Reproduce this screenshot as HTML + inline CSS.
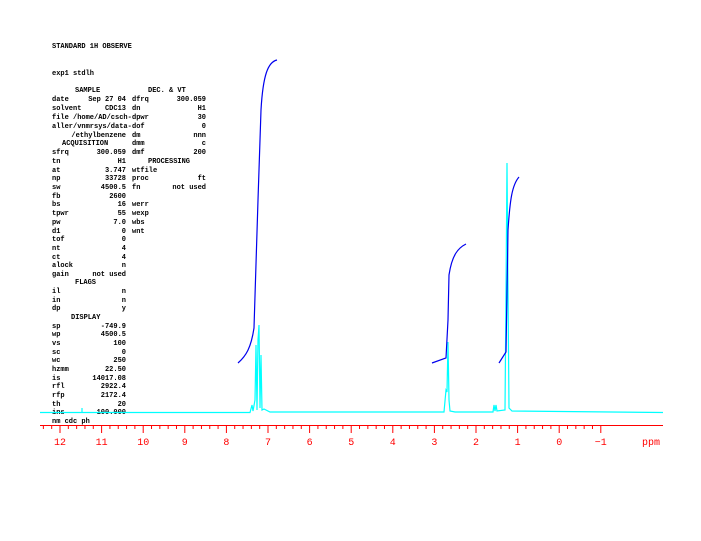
<!DOCTYPE html>
<html><head><style>
body{margin:0;background:#fff;width:701px;height:541px;overflow:hidden}
svg{display:block}
.t{font-family:"Liberation Mono",monospace;font-size:7px;fill:#000;font-weight:bold;white-space:pre}
.a{font-family:"Liberation Mono",monospace;font-size:10px;fill:#f00}
</style></head><body>
<svg width="701" height="541" xmlns="http://www.w3.org/2000/svg">
<g class="t">
<text x="52" y="48">STANDARD 1H OBSERVE</text>
<text x="52" y="75">exp1  stdlh</text>
<text x="75" y="92">SAMPLE</text><text x="148" y="92">DEC. &amp; VT</text>
<g>
<text x="52" y="101">date</text><text x="126" y="101" text-anchor="end">Sep 27 04</text>
<text x="52" y="110">solvent</text><text x="126" y="110" text-anchor="end">CDC13</text>
<text x="52" y="119">file /home/AD/csch-</text>
<text x="52" y="128">aller/vnmrsys/data-</text>
<text x="126" y="137" text-anchor="end">/ethylbenzene</text>
<text x="62" y="145">ACQUISITION</text>
<text x="52" y="154">sfrq</text><text x="126" y="154" text-anchor="end">300.059</text>
<text x="52" y="163">tn</text><text x="126" y="163" text-anchor="end">H1</text>
<text x="52" y="172">at</text><text x="126" y="172" text-anchor="end">3.747</text>
<text x="52" y="180">np</text><text x="126" y="180" text-anchor="end">33728</text>
<text x="52" y="189">sw</text><text x="126" y="189" text-anchor="end">4500.5</text>
<text x="52" y="198">fb</text><text x="126" y="198" text-anchor="end">2600</text>
<text x="52" y="206">bs</text><text x="126" y="206" text-anchor="end">16</text>
<text x="52" y="215">tpwr</text><text x="126" y="215" text-anchor="end">55</text>
<text x="52" y="224">pw</text><text x="126" y="224" text-anchor="end">7.0</text>
<text x="52" y="233">d1</text><text x="126" y="233" text-anchor="end">0</text>
<text x="52" y="241">tof</text><text x="126" y="241" text-anchor="end">0</text>
<text x="52" y="250">nt</text><text x="126" y="250" text-anchor="end">4</text>
<text x="52" y="259">ct</text><text x="126" y="259" text-anchor="end">4</text>
<text x="52" y="267">alock</text><text x="126" y="267" text-anchor="end">n</text>
<text x="52" y="276">gain</text><text x="126" y="276" text-anchor="end">not used</text>
<text x="75" y="284">FLAGS</text>
<text x="52" y="293">il</text><text x="126" y="293" text-anchor="end">n</text>
<text x="52" y="302">in</text><text x="126" y="302" text-anchor="end">n</text>
<text x="52" y="310">dp</text><text x="126" y="310" text-anchor="end">y</text>
<text x="71" y="319">DISPLAY</text>
<text x="52" y="328">sp</text><text x="126" y="328" text-anchor="end">-749.9</text>
<text x="52" y="336">wp</text><text x="126" y="336" text-anchor="end">4500.5</text>
<text x="52" y="345">vs</text><text x="126" y="345" text-anchor="end">100</text>
<text x="52" y="354">sc</text><text x="126" y="354" text-anchor="end">0</text>
<text x="52" y="362">wc</text><text x="126" y="362" text-anchor="end">250</text>
<text x="52" y="371">hzmm</text><text x="126" y="371" text-anchor="end">22.50</text>
<text x="52" y="380">is</text><text x="126" y="380" text-anchor="end">14017.08</text>
<text x="52" y="388">rfl</text><text x="126" y="388" text-anchor="end">2922.4</text>
<text x="52" y="397">rfp</text><text x="126" y="397" text-anchor="end">2172.4</text>
<text x="52" y="406">th</text><text x="126" y="406" text-anchor="end">20</text>
<text x="52" y="414">ins</text><text x="126" y="414" text-anchor="end">100.000</text>
<text x="52" y="423">nm  cdc  ph</text>
</g>
<g>
<text x="132" y="101">dfrq</text><text x="206" y="101" text-anchor="end">300.059</text>
<text x="132" y="110">dn</text><text x="206" y="110" text-anchor="end">H1</text>
<text x="132" y="119">dpwr</text><text x="206" y="119" text-anchor="end">30</text>
<text x="132" y="128">dof</text><text x="206" y="128" text-anchor="end">0</text>
<text x="132" y="137">dm</text><text x="206" y="137" text-anchor="end">nnn</text>
<text x="132" y="145">dmm</text><text x="206" y="145" text-anchor="end">c</text>
<text x="132" y="154">dmf</text><text x="206" y="154" text-anchor="end">200</text>
<text x="148" y="163">PROCESSING</text>
<text x="132" y="172">wtfile</text>
<text x="132" y="180">proc</text><text x="206" y="180" text-anchor="end">ft</text>
<text x="132" y="189">fn</text><text x="206" y="189" text-anchor="end">not used</text>
<text x="132" y="206">werr</text>
<text x="132" y="215">wexp</text>
<text x="132" y="224">wbs</text>
<text x="132" y="233">wnt</text>
</g>
</g>
<g fill="none" stroke="#00ffff" stroke-width="1.2">
<path d="M40 412.5 L250 412.5 L252 405 L253 411 L255 400 L256 345 L257 410 L258 340 L259 325 L260 408 L261 355 L262 410 L264 409 L270 412 L444 412 L446 390 L447 392 L448 342 L449 400 L450 411 L455 412 L493 412 L494 405 L495 411 L496 405 L497 411 L505 410 L506 292 L507 163 L508 290 L509 408 L512 411 L663 412.5"/>
<path d="M82 412 L82 408"/>
</g>
<g fill="none" stroke="#0000ee" stroke-width="1.2">
<path d="M238 363 C246 356 251 348 254 328 L258 200 L261 110 C263 75 268 62 277 60"/>
<path d="M432 363 L446 358 L448 320 L449 275 C452 255 458 248 466 244"/>
<path d="M499 363 L506 352 L508 230 C510 200 512 185 519 177"/>
</g>
<g stroke="#f00" stroke-width="1">
<line x1="40" y1="425.5" x2="663" y2="425.5"/>
</g>
<g id="ticks" stroke="#f00" stroke-width="1"></g>
<g class="a" text-anchor="middle">
<text x="60" y="445">12</text><text x="101.6" y="445">11</text><text x="143.2" y="445">10</text>
<text x="184.8" y="445">9</text><text x="226.4" y="445">8</text><text x="268" y="445">7</text>
<text x="309.6" y="445">6</text><text x="351.2" y="445">5</text><text x="392.8" y="445">4</text>
<text x="434.4" y="445">3</text><text x="476" y="445">2</text><text x="517.6" y="445">1</text>
<text x="559.2" y="445">0</text><text x="600.8" y="445">−1</text><text x="651" y="445">ppm</text>
</g>
</svg>
<script>
var g=document.getElementById('ticks'),s='';
for(var i=-5;i<=65;i++){var p=12-i*0.2;var x=60+(12-p)*41.6;if(x<40||x>663)continue;var maj=(i%5==0);
s+='<line x1="'+x+'" y1="425" x2="'+x+'" y2="'+(maj?433:429)+'"/>';}
g.innerHTML=s;
</script>
</body></html>
